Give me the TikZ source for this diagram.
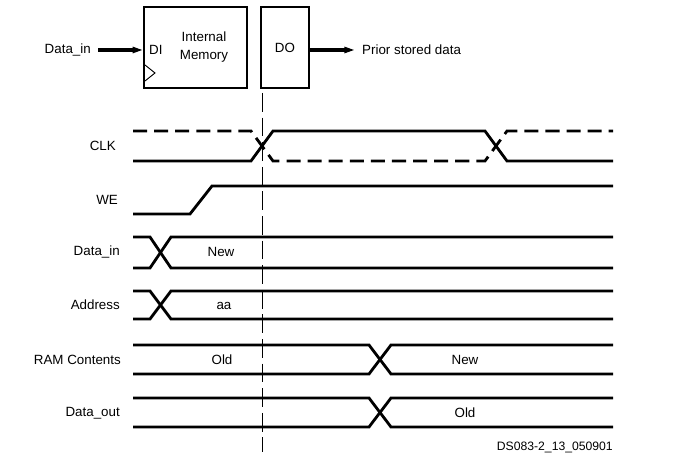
\documentclass[tikz,border=0pt]{standalone}
\usepackage{fontspec}
\setmainfont{Liberation Sans}
\usetikzlibrary{positioning, arrows.meta}

\begin{document}
\begin{tikzpicture}[
 x=0.03cm, y=-0.03cm,
 font=\fontsize{11.4}{13}\selectfont,
 block/.style={rectangle, draw=black, line width=1.4pt, inner sep=0pt},
 blk_edge/.style={-{Triangle[length=9pt, width=5pt]}, line width=2.8pt},
 sig/.style={line width=2.4pt, line join=miter},
 dsig/.style={line width=2.4pt, dash pattern=on 12pt off 6pt},
 lbl/.style={anchor=east, inner sep=0pt},
 val/.style={inner sep=0pt}
]
\useasboundingbox (0,0) rectangle (688,459);

% block diagram
\node[block, minimum width=103*0.03cm, minimum height=81*0.03cm] (mem) at (195.5,47.5) {};
\node[block, minimum width=48*0.03cm, minimum height=81*0.03cm] (dout) at (285,47.5) {};
\node[val, anchor=west] (di) at (149,50) {DI};
\node[val, align=center, font=\fontsize{11.4}{16}\selectfont] (memtxt) at (204,47) {Internal\\Memory};
\node[val] (do) at (dout) {DO};
\node[val, anchor=east] (din) at (91,50) {Data\_in};
\node[val, anchor=west] (prior) at (362,50) {Prior stored data};
\draw[line width=0.8pt] (145,65) -- (155,73) -- (145,81);
\draw[blk_edge] ([xshift=6pt]din.east) -- (mem.west |- din.east);
\draw[blk_edge] (dout.east |- prior.west) -- ([xshift=-6pt]prior.west);

% reference instant
\draw[line width=0.8pt, dash pattern=on 16pt off 5pt] (262,93) -- (262,452);

% CLK
\node[lbl] (clk) at (116,146) {CLK};
\draw[dsig] (133,131) -- (251,131) -- (273,161) -- (485,161) -- (507,131) -- (613,131);
\draw[sig] (133,161) -- (251,161) -- (273,131) -- (485,131) -- (507,161) -- (613,161);

% WE
\node[lbl] (we) at (118,200) {WE};
\draw[sig] (133,214) -- (190,214) -- (212,186) -- (613,186);

% Data_in
\node[lbl] (dinsig) at (120,252) {Data\_in};
\draw[sig] (133,237) -- (150,237) -- (171,268) -- (613,268);
\draw[sig] (133,268) -- (150,268) -- (171,237) -- (613,237);
\node[val] (newin) at (221,252) {New};

% Address
\node[lbl] (addr) at (120,305) {Address};
\draw[sig] (133,291) -- (150,291) -- (171,319) -- (613,319);
\draw[sig] (133,319) -- (150,319) -- (171,291) -- (613,291);
\node[val] (aa) at (224,306) {aa};

% RAM Contents
\node[lbl] (ram) at (121,360) {RAM Contents};
\draw[sig] (133,345) -- (369,345) -- (391,374) -- (613,374);
\draw[sig] (133,374) -- (369,374) -- (391,345) -- (613,345);
\node[val] (ramold) at (222,360) {Old};
\node[val] (ramnew) at (465,360) {New};

% Data_out
\node[lbl] (dosig) at (120,413) {Data\_out};
\draw[sig] (133,398) -- (369,398) -- (391,427) -- (613,427);
\draw[sig] (133,427) -- (369,427) -- (391,398) -- (613,398);
\node[val] (outold) at (465,413) {Old};

\node[val, anchor=east, font=\fontsize{10.4}{12}\selectfont] (tag) at (613,447) {DS083-2\_13\_050901};
\end{tikzpicture}
\end{document}
